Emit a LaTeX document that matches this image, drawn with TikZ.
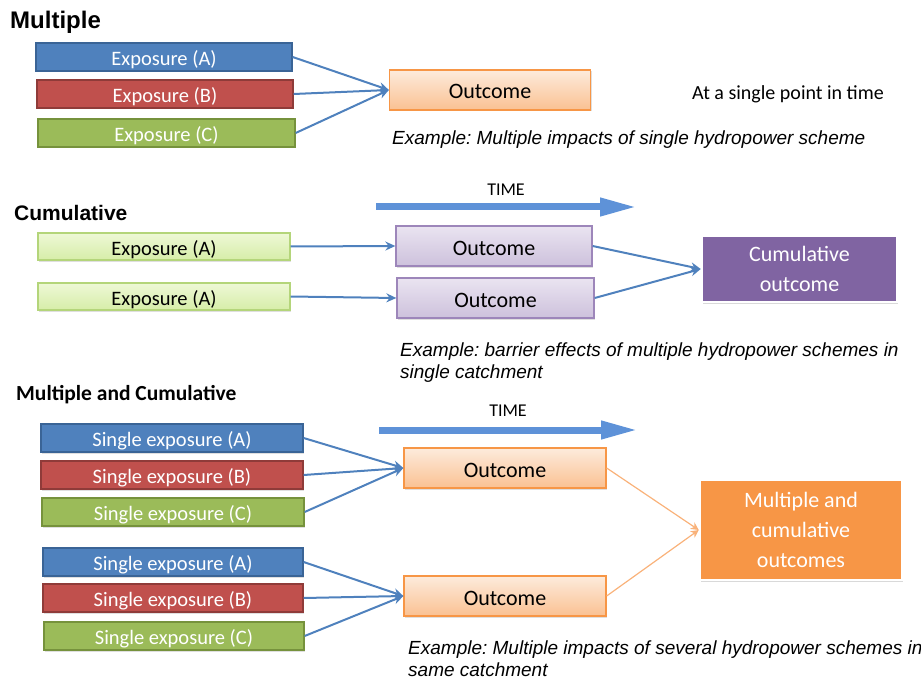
\documentclass[tikz,border=0pt]{standalone}
\usepackage{fontspec}
\setmainfont{Carlito}
\newfontfamily\arialfont{Liberation Sans}
\frenchspacing
\usetikzlibrary{arrows.meta,shadows,positioning}

\definecolor{expblue}{HTML}{4F81BD}
\definecolor{expblueline}{HTML}{3A6496}
\definecolor{expred}{HTML}{C0504D}
\definecolor{expredline}{HTML}{8F3B39}
\definecolor{expgreen}{HTML}{9BBB59}
\definecolor{expgreenline}{HTML}{76923C}
\definecolor{litegreentop}{HTML}{EEF8D6}
\definecolor{litegreenbot}{HTML}{D6EDA8}
\definecolor{litegreenline}{HTML}{B4D57A}
\definecolor{outorange}{HTML}{F79646}
\definecolor{outorangetop}{HTML}{FDEBDC}
\definecolor{outorangebot}{HTML}{FAC192}
\definecolor{outpurple}{HTML}{8064A2}
\definecolor{outpurpletop}{HTML}{EAE4F1}
\definecolor{outpurplebot}{HTML}{CDC1DC}
\definecolor{outpurpleline}{HTML}{9D86BA}
\definecolor{timeblue}{HTML}{5E92D8}
\definecolor{thinorange}{HTML}{F9B27A}

\begin{document}
\begin{tikzpicture}[x=1pt,y=-1pt,
    shade/.style={drop shadow={opacity=.25,shadow xshift=1pt,shadow yshift=-1.5pt}},
    expbox/.style={draw,line width=1.3pt,inner sep=0pt,minimum height=28pt,text height=19pt,text depth=2pt,text=white,font=\fontsize{20.5}{24}\selectfont,shade},
    blueexp/.style={expbox,fill=expblue,draw=expblueline},
    redexp/.style={expbox,fill=expred,draw=expredline},
    greenexp/.style={expbox,fill=expgreen,draw=expgreenline},
    liteexp/.style={expbox,top color=litegreentop,bottom color=litegreenbot,draw=litegreenline,text=black,minimum width=252pt,minimum height=27pt},
    orangeout/.style={expbox,top color=outorangetop,bottom color=outorangebot,draw=outorange,text=black,minimum width=202pt,minimum height=40pt,text height=20pt,font=\fontsize{22}{26}\selectfont},
    purpleout/.style={orangeout,top color=outpurpletop,bottom color=outpurplebot,draw=outpurpleline},
    bigout/.style={draw=white,line width=2.5pt,inner sep=0pt,text=white,align=center,font=\fontsize{22}{30}\selectfont,drop shadow={opacity=.3,shadow xshift=1pt,shadow yshift=-2pt}},
    title/.style={inner sep=0pt,anchor=west,font=\arialfont\bfseries\fontsize{22}{26}\selectfont},
    example/.style={inner sep=0pt,anchor=north west,align=left,font=\arialfont\itshape\fontsize{19}{21.5}\selectfont},
    link/.style={draw=expblue,line width=2pt,-{Stealth[length=10pt,width=9pt]}},
    thinlink/.style={draw=thinorange,line width=1.2pt,-{Stealth[length=8pt,width=8pt]}},
    timearrow/.style={draw=timeblue,line width=7pt,-{Triangle[length=37pt,width=17pt]}}]
    \useasboundingbox (0,0) rectangle (921,679);

    % Multiple
    \node[title,font=\arialfont\bfseries\fontsize{24}{28}\selectfont] at (10,22)(tmult){Multiple};
    \node[blueexp,minimum width=256pt] at (164,57)(expA){Exposure (A)};
    \node[redexp,minimum width=256pt] at (165,94)(expB){Exposure (B)};
    \node[greenexp,minimum width=257pt] at (166.5,133)(expC){Exposure (C)};
    \node[orangeout,minimum width=201pt] at (490,90)(out){Outcome};
    \node[inner sep=0pt,anchor=west,font=\fontsize{20}{24}\selectfont] at (692,94)(pointtime){At a single point in time};
    \node[example,anchor=west] at (392,140)(exmult){Example: Multiple impacts of single hydropower scheme};

    \draw[link](expA.east) -- (out.west);
    \draw[link](expB.east) -- (out.west);
    \draw[link](expC.east) -- (out.west);

    % Cumulative
    \node[title,font=\arialfont\bfseries\fontsize{21}{25}\selectfont] at (14,213)(tcum){Cumulative};
    \node[inner sep=0pt,font=\fontsize{18}{22}\selectfont] at (506,190)(timeA){TIME};
    \coordinate (timeAs) at (376,207);
    \coordinate (timeAe) at (637,207);
    \draw[timearrow](timeAs) -- (timeAe);
    \node[liteexp] at (164,246.5)(cexpA){Exposure (A)};
    \node[liteexp] at (164,296.5)(cexpB){Exposure (A)};
    \node[purpleout,minimum width=196pt] at (494,246)(cout){Outcome};
    \node[purpleout,minimum width=197pt] at (495.5,298)(coutb){Outcome};
    \node[bigout,fill=outpurple,minimum width=195pt,minimum height=66pt] at (799.5,269)(cumout){Cumulative\\outcome};
    \node[example] at (400,343)(excum){Example: barrier effects of multiple hydropower schemes in\\single catchment};

    \draw[link](cexpA.east) -- (cout.west);
    \draw[link](cexpB.east) -- (coutb.west);
    \draw[link](cout.east) -- (cumout.west);
    \draw[link](coutb.east) -- (cumout.west);

    % Multiple and Cumulative
    \node[inner sep=0pt,anchor=west,font=\bfseries\fontsize{21.5}{25}\selectfont] at (16,395)(tmc){Multiple and Cumulative};
    \node[inner sep=0pt,font=\fontsize{18}{22}\selectfont] at (508,411)(timeB){TIME};
    \coordinate (timeBs) at (379,430);
    \coordinate (timeBe) at (638,430);
    \draw[timearrow](timeBs) -- (timeBe);
    \node[blueexp,minimum width=262pt] at (172,438)(sexpA){Single exposure (A)};
    \node[redexp,minimum width=262pt] at (172,475)(sexpB){Single exposure (B)};
    \node[greenexp,minimum width=262pt] at (173,512)(sexpC){Single exposure (C)};
    \node[orangeout] at (505,468)(mout){Outcome};
    \node[blueexp,minimum width=260pt] at (173,562)(sexpD){Single exposure (A)};
    \node[redexp,minimum width=260pt] at (173,598)(sexpE){Single exposure (B)};
    \node[greenexp,minimum width=260pt] at (174,636)(sexpF){Single exposure (C)};
    \node[orangeout] at (505,596)(moutb){Outcome};
    \node[bigout,fill=outorange,minimum width=202pt,minimum height=100pt] at (801,530)(mcout){Multiple and\\cumulative\\outcomes};
    \node[example] at (408,641)(exmc){Example: Multiple impacts of several hydropower schemes in\\same catchment};

    \draw[link](sexpA.east) -- (mout.west);
    \draw[link](sexpB.east) -- (mout.west);
    \draw[link](sexpC.east) -- (mout.west);
    \draw[link](sexpD.east) -- (moutb.west);
    \draw[link](sexpE.east) -- (moutb.west);
    \draw[link](sexpF.east) -- (moutb.west);
    \draw[thinlink](mout.east) -- (mcout.west);
    \draw[thinlink](moutb.east) -- (mcout.west);
\end{tikzpicture}
\end{document}
